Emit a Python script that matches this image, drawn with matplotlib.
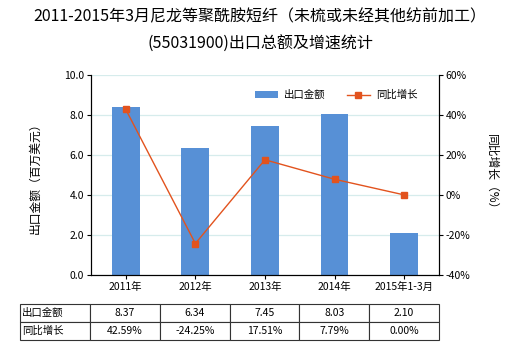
import numpy as np
import matplotlib
matplotlib.use("Agg")
import matplotlib.pyplot as plt
from matplotlib.ticker import FormatStrFormatter, FuncFormatter

plt.rcParams['font.family'] = ['Noto Sans CJK SC', 'DejaVu Sans']

# datos
anios = ['2011年', '2012年', '2013年', '2014年', '2015年1-3月']
monto = [8.37, 6.34, 7.45, 8.03, 2.10]
crecimiento = [42.59, -24.25, 17.51, 7.79, 0.00]
fila_monto = ['8.37', '6.34', '7.45', '8.03', '2.10']
fila_crec = ['42.59%', '-24.25%', '17.51%', '7.79%', '0.00%']

color_barra = '#5790d6'
color_linea = '#e2531e'

fig = plt.figure(figsize=(5.2, 3.5), dpi=100)
ax = fig.add_axes([0.175, 0.214, 0.669, 0.573])
x = np.arange(len(anios))

ax.set_axisbelow(True)
ax.grid(axis='y', color='#d6ecec', linewidth=0.9)
ax.bar(x, monto, width=0.4, color=color_barra, label='出口金额', zorder=2)
ax.set_ylim(0, 10)
ax.set_xlim(-0.5, len(anios) - 0.5)
ax.set_yticks(np.arange(0, 10.1, 2))
ax.yaxis.set_major_formatter(FormatStrFormatter('%.1f'))
ax.set_xticks(x)
ax.set_xticklabels(anios)
ax.tick_params(labelsize=7.5, length=3, width=0.8, pad=2)
ax.set_ylabel('出口金额（百万美元）', fontsize=8.5, labelpad=16)
ax.spines['top'].set_visible(False)

ax2 = ax.twinx()
ax2.plot(x, crecimiento, color=color_linea, linewidth=1, marker='s',
         markersize=4.5, label='同比增长', zorder=3)
ax2.set_ylim(-40, 60)
ax2.set_yticks(np.arange(-40, 61, 20))
ax2.yaxis.set_major_formatter(FuncFormatter(lambda v, p: f'{v:.0f}%'))
ax2.tick_params(labelsize=7.5, length=3, width=0.8, pad=2)
ax2.set_ylabel('同比增长（%）', fontsize=8.5, rotation=-90, labelpad=20)
ax2.spines['top'].set_visible(False)

h1, l1 = ax.get_legend_handles_labels()
h2, l2 = ax2.get_legend_handles_labels()
ax2.legend(h1 + h2, l1 + l2, ncol=2, frameon=False, fontsize=7.5,
           loc='upper right', bbox_to_anchor=(0.965, 0.97),
           handlelength=2.2, columnspacing=2.0, handletextpad=0.6)

fig.suptitle('2011-2015年3月尼龙等聚酰胺短纤（未梳或未经其他纺前加工）\n(55031900)出口总额及增速统计',
             fontsize=11.5, y=0.975, linespacing=1.75)

tabla = ax.table(cellText=[['出口金额'] + fila_monto, ['同比增长'] + fila_crec],
                 cellLoc='center', bbox=[-0.204, -0.3245, 1.204, 0.18])
tabla.auto_set_font_size(False)
tabla.set_fontsize(7.5)
for (r, c), celda in tabla.get_celld().items():
    celda.set_linewidth(0.8)
    celda.set_edgecolor('#333333')
    celda.set_width(70 / 418 if c == 0 else 69.6 / 418)
    if c == 0:
        celda.get_text().set_horizontalalignment('left')
        celda.PAD = 0.03

fig.savefig('out.png', dpi=100)
